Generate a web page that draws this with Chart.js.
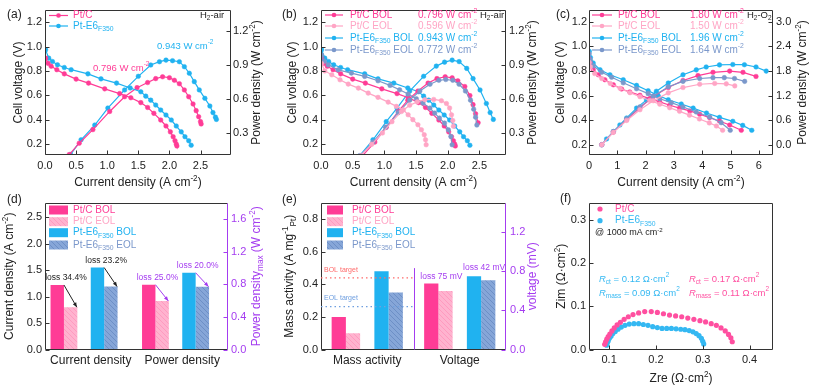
<!DOCTYPE html>
<html>
<head>
<meta charset="utf-8">
<title>Fuel cell performance</title>
<script src="https://cdn.jsdelivr.net/npm/chart.js@4.4.1/dist/chart.umd.min.js"></script>
<style>
  html, body { margin: 0; padding: 0; background: #fff; }
  #page { position: relative; width: 814px; height: 389px; overflow: hidden; }
  #page canvas { position: absolute; }
</style>
</head>
<body>
<div id="page">
  <canvas id="chartA" width="270" height="190" style="left:0;top:0"></canvas>
  <canvas id="chartB" width="270" height="190" style="left:270px;top:0"></canvas>
  <canvas id="chartC" width="274" height="190" style="left:540px;top:0"></canvas>
  <canvas id="chartD" width="270" height="199" style="left:0;top:190px"></canvas>
  <canvas id="chartE" width="270" height="199" style="left:270px;top:190px"></canvas>
  <canvas id="chartF" width="274" height="199" style="left:540px;top:190px"></canvas>
</div>
<script>
/************** data ************/

// (a) H2-air, BOL : [current density, cell voltage] / [current density, power density]
const ptcPolA = [[0.01,0.905],[0.05,0.862],[0.10,0.838],[0.19,0.81],[0.31,0.776],[0.50,0.733],[0.70,0.70],[0.96,0.653],[1.20,0.614],[1.38,0.58],[1.54,0.54],[1.65,0.50],[1.75,0.452],[1.86,0.397],[1.945,0.348],[2.015,0.30],[2.06,0.26],[2.09,0.227],[2.11,0.20],[2.12,0.184]];
const ptcPowA = [[0.39,0.11],[0.55,0.21],[0.77,0.33],[1.04,0.49],[1.28,0.62],[1.48,0.70],[1.65,0.745],[1.78,0.78],[1.89,0.796],[2.00,0.788],[2.08,0.765],[2.16,0.735],[2.24,0.68],[2.31,0.62],[2.38,0.556],[2.43,0.497],[2.47,0.444],[2.50,0.40],[2.51,0.38]];
const e6PolA = [[0.01,0.973],[0.06,0.905],[0.12,0.877],[0.20,0.85],[0.31,0.828],[0.42,0.81],[0.69,0.776],[0.90,0.735],[1.15,0.70],[1.37,0.66],[1.54,0.629],[1.62,0.593],[1.70,0.56],[1.78,0.52],[1.86,0.479],[1.945,0.438],[2.03,0.397],[2.11,0.348],[2.19,0.30],[2.25,0.26],[2.31,0.227],[2.35,0.19]];
const e6PowA = [[0.41,0.11],[0.58,0.24],[0.80,0.37],[1.01,0.52],[1.28,0.68],[1.50,0.80],[1.70,0.90],[1.84,0.929],[1.945,0.943],[2.05,0.938],[2.16,0.929],[2.24,0.885],[2.32,0.827],[2.40,0.753],[2.48,0.68],[2.57,0.606],[2.65,0.538],[2.70,0.48],[2.74,0.44],[2.755,0.42]];

// (b) H2-air, BOL vs EOL
const ptcPowB = [[0.64,0.09],[0.85,0.22],[1.03,0.35],[1.22,0.49],[1.37,0.59],[1.53,0.67],[1.69,0.74],[1.83,0.78],[1.96,0.796],[2.07,0.787],[2.16,0.76],[2.27,0.71],[2.35,0.63],[2.40,0.55],[2.44,0.47],[2.48,0.39]];
const e6PowB = [[0.61,0.10],[0.82,0.24],[1.03,0.40],[1.20,0.52],[1.40,0.67],[1.62,0.80],[1.82,0.89],[1.95,0.925],[2.07,0.943],[2.18,0.93],[2.30,0.87],[2.40,0.78],[2.51,0.68],[2.61,0.56],[2.67,0.48],[2.72,0.42]];
const ptcEolPolB = [[0.01,0.86],[0.06,0.80],[0.17,0.768],[0.30,0.727],[0.43,0.692],[0.59,0.659],[0.745,0.618],[0.90,0.583],[1.06,0.544],[1.19,0.509],[1.30,0.481],[1.375,0.44],[1.45,0.40],[1.53,0.358],[1.585,0.317],[1.63,0.276],[1.65,0.235],[1.66,0.194]];
const ptcEolPowB = [[0.62,0.10],[0.80,0.20],[0.97,0.30],[1.12,0.40],[1.27,0.49],[1.40,0.545],[1.52,0.575],[1.64,0.594],[1.78,0.596],[1.90,0.585],[1.98,0.56],[2.03,0.52],[2.06,0.46],[2.08,0.41],[2.09,0.36]];
const e6EolPolB = [[0.01,0.93],[0.05,0.88],[0.115,0.85],[0.27,0.809],[0.48,0.782],[0.69,0.755],[0.90,0.719],[1.09,0.681],[1.24,0.645],[1.375,0.61],[1.505,0.571],[1.61,0.536],[1.72,0.495],[1.795,0.454],[1.87,0.413],[1.95,0.372],[2.01,0.317],[2.05,0.262],[2.07,0.194]];
const e6EolPowB = [[0.62,0.10],[0.82,0.22],[1.02,0.35],[1.22,0.48],[1.40,0.59],[1.56,0.67],[1.72,0.73],[1.86,0.765],[1.97,0.772],[2.08,0.765],[2.18,0.73],[2.28,0.67],[2.36,0.59],[2.41,0.51],[2.44,0.44],[2.46,0.37]];
const peakPowerB = [0.796, 0.596, 0.943, 0.772];

// (c) H2-O2, BOL vs EOL
const ptcPolC = [[0.01,0.90],[0.05,0.865],[0.15,0.811],[0.33,0.770],[0.56,0.730],[0.86,0.689],[1.15,0.655],[1.44,0.631],[1.80,0.604],[2.15,0.577],[2.50,0.550],[2.85,0.523],[3.20,0.50],[3.56,0.477],[3.91,0.450],[4.26,0.423],[4.61,0.396],[4.97,0.363],[5.38,0.32]];
const ptcEolPolC = [[0.01,0.87],[0.05,0.835],[0.2,0.78],[0.45,0.74],[0.75,0.70],[1.1,0.66],[1.45,0.625],[1.8,0.593],[2.15,0.562],[2.5,0.532],[2.85,0.503],[3.2,0.474],[3.55,0.443],[3.9,0.412],[4.25,0.38],[4.5,0.355],[4.72,0.32]];
const e6PolC = [[0.01,0.96],[0.05,0.91],[0.15,0.865],[0.39,0.811],[0.74,0.770],[1.21,0.73],[1.68,0.684],[2.09,0.641],[2.44,0.603],[2.80,0.568],[3.26,0.533],[3.68,0.50],[4.15,0.46],[4.61,0.425],[5.08,0.393],[5.43,0.36],[5.75,0.32]];
const e6EolPolC = [[0.01,0.94],[0.05,0.89],[0.15,0.843],[0.45,0.79],[0.80,0.75],[1.21,0.705],[1.68,0.657],[2.09,0.617],[2.50,0.576],[2.91,0.544],[3.32,0.509],[3.79,0.468],[4.26,0.428],[4.67,0.382],[4.99,0.32]];
const ptcPowC = [[0.45,0.01],[0.86,0.32],[1.33,0.62],[1.80,0.91],[2.27,1.18],[2.80,1.40],[3.32,1.57],[3.85,1.69],[4.38,1.77],[4.97,1.80],[5.44,1.77],[5.90,1.67]];
const ptcEolPowC = [[0.45,0.01],[0.86,0.31],[1.33,0.60],[1.80,0.86],[2.27,1.08],[2.80,1.27],[3.32,1.40],[3.91,1.48],[4.44,1.50],[4.85,1.49],[5.15,1.44]];
const e6PowC = [[0.45,0.01],[0.62,0.15],[0.86,0.33],[1.09,0.49],[1.33,0.66],[1.68,0.90],[2.03,1.10],[2.38,1.31],[2.80,1.51],[3.32,1.71],[3.79,1.83],[4.14,1.90],[4.61,1.95],[5.08,1.96],[5.49,1.955],[5.90,1.90],[6.26,1.80]];
const e6EolPowC = [[0.45,0.01],[0.86,0.33],[1.33,0.64],[1.80,0.93],[2.27,1.19],[2.80,1.42],[3.32,1.55],[3.91,1.62],[4.38,1.64],[4.78,1.64],[5.14,1.62],[5.50,1.55]];
const peakPowerC = [1.80, 1.50, 1.96, 1.64];

// (d) durability bars
const catsD = ['Current density', 'Power density'];
const currentD = [1.22, 0.80, 1.55, 1.19];   // A cm-2 (left axis)
const powerD = [0.796, 0.596, 0.943, 0.772]; // W cm-2 (right axis)
const lossD = ['loss 34.4%', 'loss 23.2%', 'loss 25.0%', 'loss 20.0%'];

// (e) mass activity / voltage bars
const catsE = ['Mass activity', 'Voltage'];
const massE = [0.20, 0.10, 0.48, 0.35];      // A mg-1 Pt (left axis)
const voltE = [0.675, 0.60, 0.75, 0.708];    // right axis
const targetsE = [0.44, 0.264];              // BOL / EOL target
const targetNamesE = ['BOL target', 'EOL target'];
const lossE = ['loss 75 mV', 'loss 42 mV'];

// (f) Nyquist @ 1000 mA cm-2 : [Zre, Zim]
const ptcNyq = [[0.0905,0.012],[0.0925,0.018],[0.095,0.024],[0.098,0.030],[0.1015,0.036],[0.106,0.043],[0.111,0.050],[0.117,0.057],[0.124,0.063],[0.132,0.070],[0.141,0.076],[0.151,0.081],[0.163,0.085],[0.176,0.088],[0.190,0.088],[0.203,0.086],[0.216,0.083],[0.229,0.080],[0.242,0.078],[0.255,0.076],[0.268,0.073],[0.281,0.070],[0.294,0.067],[0.306,0.064],[0.318,0.060],[0.329,0.056],[0.339,0.050],[0.348,0.043],[0.355,0.035],[0.360,0.027],[0.363,0.018]];
const e6Nyq = [[0.0945,0.010],[0.096,0.015],[0.098,0.020],[0.1005,0.026],[0.104,0.031],[0.108,0.037],[0.113,0.042],[0.119,0.047],[0.126,0.052],[0.134,0.056],[0.143,0.059],[0.153,0.060],[0.163,0.060],[0.173,0.058],[0.183,0.056],[0.193,0.053],[0.203,0.051],[0.213,0.049],[0.223,0.049],[0.233,0.049],[0.243,0.048],[0.253,0.047],[0.262,0.046],[0.271,0.044],[0.279,0.041],[0.286,0.037],[0.292,0.032],[0.297,0.026],[0.300,0.019],[0.302,0.013]];

const seriesNames = ['Pt/C BOL', 'Pt/C EOL', 'Pt-E6_{F350} BOL', 'Pt-E6_{F350} EOL'];

/************** style ************/
const FONT = '"Liberation Sans", Arial, Helvetica, sans-serif';
const INK = '#222';
const PINK = '#ff3c96', PINK_L = '#ffa5c5', BLUE = '#20b2f0', BLUE_G = '#7b98cb', PURPLE = '#a43cf0';
const SERIES_COLORS = [PINK, PINK_L, BLUE, BLUE_G];

Chart.defaults.font.family = FONT;
Chart.defaults.font.size = 11;
Chart.defaults.color = INK;
Chart.defaults.animation = false;

/************** helpers ************/

// "W cm^{-2}", "Pt-E6_{F350}", "*R*_{ct}"
function richParts(str) {
    const out = [];
    const re = /([_^])\{([^}]*)\}|\*([^*]+)\*/g;
    let last = 0, m;
    while ((m = re.exec(str)) !== null) {
        if (m.index > last) out.push({t: str.slice(last, m.index), k: ''});
        if (m[3] !== undefined) out.push({t: m[3], k: 'i'});
        else out.push({t: m[2], k: m[1]});
        last = re.lastIndex;
    }
    if (last < str.length) out.push({t: str.slice(last), k: ''});
    return out;
}

function drawRich(ctx, str, x, y, o) {
    const size = o.size || 10;
    const parts = richParts(str);
    const fontOf = p => {
        const small = p.k === '_' || p.k === '^';
        return (p.k === 'i' ? 'italic ' : '') + (small ? size * 0.68 : size) + 'px ' + FONT;
    };
    let w = 0;
    parts.forEach(p => { ctx.font = fontOf(p); p.w = ctx.measureText(p.t).width; w += p.w; });
    ctx.save();
    ctx.translate(x, y);
    if (o.rotate) ctx.rotate(-Math.PI / 2);
    ctx.fillStyle = o.color || INK;
    ctx.textBaseline = 'middle';
    ctx.textAlign = 'left';
    let cx = o.align === 'center' ? -w / 2 : (o.align === 'right' ? -w : 0);
    parts.forEach(p => {
        ctx.font = fontOf(p);
        const dy = p.k === '^' ? -size * 0.35 : (p.k === '_' ? size * 0.3 : 0);
        ctx.fillText(p.t, cx, dy);
        cx += p.w;
    });
    ctx.restore();
}

function valAxis(position, min, max, step, dec, size, pad, color) {
    return {
        type: 'linear', position: position, min: min, max: max,
        grid: {display: false, drawTicks: false},
        border: {display: false},
        ticks: {
            stepSize: step, includeBounds: false, padding: pad, color: color || INK,
            maxRotation: 0, autoSkip: false, font: {size: 11},
            callback: v => Number(v).toFixed(dec)
        },
        afterFit: s => { if (s.isHorizontal()) s.height = size; else s.width = size; }
    };
}

function catAxis(size) {
    return {
        type: 'category',
        grid: {display: false, drawTicks: false},
        border: {display: false},
        ticks: {padding: 3.5, maxRotation: 0, font: {size: 12}, color: INK},
        afterFit: s => { s.height = size; }
    };
}

function lineSet(pairs, color, axis) {
    return {
        data: pairs.map(p => ({x: p[0], y: p[1]})),
        yAxisID: axis,
        showLine: true,
        borderColor: color,
        backgroundColor: color,
        borderWidth: 1.2,
        pointRadius: 2.3,
        pointBorderWidth: 0.5,
        pointBackgroundColor: color,
        pointBorderColor: color
    };
}

function dotSet(pairs, color) {
    return {
        data: pairs.map(p => ({x: p[0], y: p[1]})),
        showLine: false,
        pointRadius: 2.6,
        pointBorderWidth: 0,
        pointBackgroundColor: color
    };
}

function hatch(base, line) {
    const c = document.createElement('canvas');
    c.width = 5; c.height = 5;
    const g = c.getContext('2d');
    g.fillStyle = base; g.fillRect(0, 0, 5, 5);
    g.strokeStyle = line; g.lineWidth = 0.9;
    g.beginPath();
    g.moveTo(0, 0); g.lineTo(5, 5);
    g.moveTo(-1, 4); g.lineTo(1, 6);
    g.moveTo(4, -1); g.lineTo(6, 1);
    g.stroke();
    return g.createPattern(c, 'repeat');
}

function spacer(axis, cat) {
    return {data: cat === 0 ? [0, null] : [null, 0], yAxisID: axis, backgroundColor: 'rgba(0,0,0,0)', borderWidth: 0, skipNull: true};
}

// 카테고리별로 다른 y축을 쓰는 막대 (null 은 간격 계산에서 제외)
function barSets(leftVals, rightVals, fills, trailing) {
    const sets = [];
    [[leftVals, 'y', 0], [rightVals, 'y1', 1]].forEach(([vals, axis, cat]) => {
        vals.forEach((v, i) => {
            if (i === 2) sets.push(spacer(axis, cat));
            sets.push({
                key: axis + ':' + i,
                data: cat === 0 ? [v, null] : [null, v],
                yAxisID: axis,
                backgroundColor: fills[i],
                borderWidth: 0,
                skipNull: true
            });
        });
        if (trailing) sets.push(spacer(axis, cat));
    });
    return sets;
}

function barEl(chart, key, cat) {
    const idx = chart.data.datasets.findIndex(d => d.key === key);
    return chart.getDatasetMeta(idx).data[cat];
}

function arrow(ctx, x1, y1, x2, y2, color) {
    ctx.strokeStyle = color; ctx.fillStyle = color; ctx.lineWidth = 1;
    ctx.beginPath(); ctx.moveTo(x1, y1); ctx.lineTo(x2, y2); ctx.stroke();
    const ang = Math.atan2(y2 - y1, x2 - x1), h = 5;
    ctx.beginPath();
    ctx.moveTo(x2, y2);
    ctx.lineTo(x2 - h * Math.cos(ang - 0.4), y2 - h * Math.sin(ang - 0.4));
    ctx.lineTo(x2 - h * Math.cos(ang + 0.4), y2 - h * Math.sin(ang + 0.4));
    ctx.closePath(); ctx.fill();
}

function lineKey(ctx, x1, x2, y, color) {
    ctx.strokeStyle = color; ctx.fillStyle = color; ctx.lineWidth = 1.2;
    ctx.beginPath(); ctx.moveTo(x1, y); ctx.lineTo(x2, y); ctx.stroke();
    ctx.beginPath(); ctx.arc((x1 + x2) / 2, y, 2.3, 0, Math.PI * 2); ctx.fill();
}

function drawFrame(chart, rightColor) {
    const ctx = chart.ctx, a = chart.chartArea;
    const L = Math.round(a.left) + 0.5, R = Math.round(a.right) - 0.5;
    const T = Math.round(a.top) + 0.5, B = Math.round(a.bottom) - 0.5;
    ctx.lineWidth = 1;
    ctx.strokeStyle = '#333';
    ctx.beginPath();
    ctx.moveTo(R, T); ctx.lineTo(L, T); ctx.lineTo(L, B); ctx.lineTo(R, B);
    ctx.stroke();
    ctx.strokeStyle = rightColor || '#333';
    ctx.beginPath(); ctx.moveTo(R, T); ctx.lineTo(R, B); ctx.stroke();
    // 안쪽 눈금
    Object.values(chart.scales).forEach(s => {
        if (s.type !== 'linear') return;
        ctx.strokeStyle = s.position === 'right' ? (rightColor || '#333') : '#333';
        s.ticks.forEach(t => {
            const p = Math.round(s.getPixelForValue(t.value)) + 0.5;
            ctx.beginPath();
            if (s.position === 'bottom') { ctx.moveTo(p, B); ctx.lineTo(p, B - 4); }
            else if (s.position === 'left') { ctx.moveTo(L, p); ctx.lineTo(L + 4, p); }
            else { ctx.moveTo(R, p); ctx.lineTo(R - 4, p); }
            ctx.stroke();
        });
    });
}

function deco(spec) {
    return {
        id: 'deco',
        afterDraw(chart) {
            const ctx = chart.ctx, a = chart.chartArea;
            ctx.save();
            drawFrame(chart, spec.rightColor);
            const midY = (a.top + a.bottom) / 2, midX = (a.left + a.right) / 2;
            const t = spec.titles;
            if (t.left) drawRich(ctx, t.left[0], t.left[1], midY, {size: 12, rotate: true, align: 'center'});
            if (t.right) drawRich(ctx, t.right[0], t.right[1], midY, {size: 12, rotate: true, align: 'center', color: t.right[2]});
            if (t.bottom) drawRich(ctx, t.bottom[0], midX, t.bottom[1], {size: 12, align: 'center'});
            drawRich(ctx, spec.tag[0], spec.tag[1], spec.tag[2], {size: 12});
            if (spec.draw) spec.draw(chart, ctx, a);
            ctx.restore();
        }
    };
}

function linePanel(id, sets, scales, pad, spec) {
    return new Chart(document.getElementById(id), {
        type: 'scatter',
        data: {datasets: sets},
        options: {
            responsive: false, animation: false, devicePixelRatio: 1,
            layout: {padding: pad},
            scales: scales,
            plugins: {legend: {display: false}, tooltip: {enabled: false}}
        },
        plugins: [deco(spec)]
    });
}

/************** (a) ************/
linePanel('chartA', [
    lineSet(ptcPolA, PINK, 'y'), lineSet(e6PolA, BLUE, 'y'),
    lineSet(ptcPowA, PINK, 'y1'), lineSet(e6PowA, BLUE, 'y1')
], {
    x: valAxis('bottom', 0, 2.99, 0.5, 1, 35, 4),
    y: valAxis('left', 0.11, 1.30, 0.2, 1, 45, 3),
    y1: valAxis('right', 0.106, 1.385, 0.3, 1, 39, 2)
}, {top: 10, left: 0, right: 0, bottom: 0}, {
    tag: ['(a)', 7, 15],
    titles: {left: ['Cell voltage (V)', 19], right: ['Power density (W cm^{-2})', 257], bottom: ['Current density (A cm^{-2})', 183]},
    draw(chart, ctx) {
        lineKey(ctx, 49, 68, 15.5, PINK);
        lineKey(ctx, 49, 68, 26, BLUE);
        drawRich(ctx, 'Pt/C', 73, 15.5, {size: 10, color: PINK});
        drawRich(ctx, 'Pt-E6_{F350}', 73, 26, {size: 10, color: BLUE});
        drawRich(ctx, 'H_{2}-air', 200, 15, {size: 9.5});
        drawRich(ctx, peakPowerB[0].toFixed(3) + ' W cm^{-2}', 93, 68, {size: 9.5, color: PINK});
        drawRich(ctx, peakPowerB[2].toFixed(3) + ' W cm^{-2}', 157, 46, {size: 9.5, color: BLUE});
    }
});

/************** (b) ************/
linePanel('chartB', [
    lineSet(ptcEolPolB, PINK_L, 'y'), lineSet(ptcEolPowB, PINK_L, 'y1'),
    lineSet(e6EolPolB, BLUE_G, 'y'), lineSet(e6EolPowB, BLUE_G, 'y1'),
    lineSet(ptcPolA, PINK, 'y'), lineSet(ptcPowB, PINK, 'y1'),
    lineSet(e6PolA, BLUE, 'y'), lineSet(e6PowB, BLUE, 'y1')
], {
    x: valAxis('bottom', 0, 2.92, 0.5, 1, 35, 4),
    y: valAxis('left', 0.11, 1.30, 0.2, 1, 51, 3),
    y1: valAxis('right', 0.106, 1.385, 0.3, 1, 34, 3)
}, {top: 10, left: 0, right: 0, bottom: 0}, {
    tag: ['(b)', 12, 15],
    titles: {left: ['Cell voltage (V)', 23], right: ['Power density (W cm^{-2})', 263], bottom: ['Current density (A cm^{-2})', 183]},
    draw(chart, ctx) {
        const rows = [15, 26, 38, 50];
        seriesNames.forEach((name, i) => {
            lineKey(ctx, 55, 73, rows[i], SERIES_COLORS[i]);
            drawRich(ctx, name, 80, rows[i], {size: 10, color: SERIES_COLORS[i]});
            drawRich(ctx, peakPowerB[i].toFixed(3) + ' W cm^{-2}', 148, rows[i], {size: 10, color: SERIES_COLORS[i]});
        });
        drawRich(ctx, 'H_{2}-air', 210, 15, {size: 9.5});
    }
});

/************** (c) ************/
linePanel('chartC', [
    lineSet(ptcEolPolC, PINK_L, 'y'), lineSet(ptcEolPowC, PINK_L, 'y1'),
    lineSet(e6EolPolC, BLUE_G, 'y'), lineSet(e6EolPowC, BLUE_G, 'y1'),
    lineSet(ptcPolC, PINK, 'y'), lineSet(ptcPowC, PINK, 'y1'),
    lineSet(e6PolC, BLUE, 'y'), lineSet(e6PowC, BLUE, 'y1')
], {
    x: valAxis('bottom', 0, 6.5, 1, 0, 35, 4),
    y: valAxis('left', 0.12, 1.295, 0.2, 1, 49, 2),
    y1: valAxis('right', -0.24, 3.285, 0.6, 1, 41, 3)
}, {top: 10, left: 0, right: 0, bottom: 0}, {
    tag: ['(c)', 16, 15],
    titles: {left: ['Cell voltage (V)', 21], right: ['Power density (W cm^{-2})', 263], bottom: ['Current density (A cm^{-2})', 183]},
    draw(chart, ctx) {
        const rows = [15, 26, 38, 50];
        seriesNames.forEach((name, i) => {
            lineKey(ctx, 52, 72, rows[i], SERIES_COLORS[i]);
            drawRich(ctx, name, 78, rows[i], {size: 10, color: SERIES_COLORS[i]});
            drawRich(ctx, peakPowerC[i].toFixed(2) + ' W cm^{-2}', 150, rows[i], {size: 10, color: SERIES_COLORS[i]});
        });
        drawRich(ctx, 'H_{2}-O_{2}', 207, 15, {size: 9.5});
    }
});

/************** (d) ************/
const fillsBar = [PINK, hatch('#ffb3cf', '#ff97bd'), BLUE, hatch('#86a6d8', '#6a8cc4')];

new Chart(document.getElementById('chartD'), {
    type: 'bar',
    data: {labels: catsD, datasets: barSets(currentD, powerD, fillsBar, true)},
    options: {
        responsive: false, animation: false, devicePixelRatio: 1,
        layout: {padding: {top: 13, left: 0, right: 0, bottom: 0}},
        datasets: {bar: {categoryPercentage: 0.879, barPercentage: 1}},
        scales: {
            x: catAxis(39.5),
            y: valAxis('left', 0, 2.77, 0.5, 1, 45, 3),
            y1: valAxis('right', 0, 1.8, 0.4, 1, 42, 3, PURPLE)
        },
        plugins: {legend: {display: false}, tooltip: {enabled: false}}
    },
    plugins: [deco({
        tag: ['(d)', 7, 10],
        rightColor: PURPLE,
        titles: {left: ['Current density (A cm^{-2})', 10], right: ['Power density_{max} (W cm^{-2})', 257, PURPLE]},
        draw(chart, ctx) {
            const rows = [20, 31.7, 42.7, 55];
            seriesNames.forEach((name, i) => {
                ctx.fillStyle = fillsBar[i];
                ctx.fillRect(49, rows[i] - 4.5, 19, 9);
                drawRich(ctx, name, 73, rows[i], {size: 10, color: SERIES_COLORS[i]});
            });
            // BOL -> EOL 감소 화살표
            const pairs = [['y', 0, 0, INK], ['y', 2, 0, INK], ['y1', 0, 1, PURPLE], ['y1', 2, 1, PURPLE]];
            pairs.forEach(([axis, i, cat, color], k) => {
                const a = barEl(chart, axis + ':' + i, cat);
                const b = barEl(chart, axis + ':' + (i + 1), cat);
                arrow(ctx, a.x + a.width / 2, a.y, b.x + b.width / 2 - 0.5, b.y, color);
                drawRich(ctx, lossD[k], a.x + a.width / 2 + 2, a.y - 7, {size: 8.5, color: color, align: 'center'});
            });
        }
    })]
});

/************** (e) ************/
new Chart(document.getElementById('chartE'), {
    type: 'bar',
    data: {labels: catsE, datasets: barSets(massE, voltE, fillsBar, false)},
    options: {
        responsive: false, animation: false, devicePixelRatio: 1,
        layout: {padding: {top: 13, left: 0, right: 0, bottom: 0}},
        datasets: {bar: {categoryPercentage: 0.77, barPercentage: 1}},
        scales: {
            x: catAxis(39.5),
            y: valAxis('left', 0, 0.9, 0.2, 1, 51, 3),
            y1: valAxis('right', 0, 1.5, 0.4, 1, 34, 4, PURPLE)
        },
        plugins: {legend: {display: false}, tooltip: {enabled: false}}
    },
    plugins: [deco({
        tag: ['(e)', 12, 10],
        rightColor: PURPLE,
        titles: {left: ['Mass activity (A mg^{-1}_{Pt})', 20], right: ['voltage (mV)', 263, PURPLE]},
        draw(chart, ctx, area) {
            const xs = chart.scales.x, ys = chart.scales.y;
            const divX = (xs.getPixelForValue(0) + xs.getPixelForValue(1)) / 2;
            // 목표선
            const tColors = ['#ff6b6b', '#6f9fe0'];
            targetsE.forEach((v, i) => {
                const py = ys.getPixelForValue(v);
                ctx.strokeStyle = tColors[i]; ctx.lineWidth = 1.3;
                ctx.setLineDash([1.5, 3]);
                ctx.beginPath(); ctx.moveTo(area.left, py); ctx.lineTo(divX, py); ctx.stroke();
                ctx.setLineDash([]);
                drawRich(ctx, targetNamesE[i], area.left + 3, py - 8, {size: 7, color: tColors[i]});
            });
            // 구분선
            ctx.strokeStyle = PURPLE; ctx.lineWidth = 1;
            ctx.beginPath(); ctx.moveTo(Math.round(divX) + 0.5, ys.getPixelForValue(0.5)); ctx.lineTo(Math.round(divX) + 0.5, area.bottom); ctx.stroke();
            // 범례
            const rows = [20, 31.7, 42.7, 55];
            seriesNames.forEach((name, i) => {
                ctx.fillStyle = fillsBar[i];
                ctx.fillRect(57, rows[i] - 4.5, 16, 9);
                drawRich(ctx, name, 82, rows[i], {size: 10, color: SERIES_COLORS[i]});
            });
            [0, 2].forEach((i, k) => {
                const a = barEl(chart, 'y1:' + i, 1);
                drawRich(ctx, lossE[k], a.x + a.width / 2 + 3, a.y - 7 - k * 2, {size: 8.5, color: PURPLE, align: 'center'});
            });
        }
    })]
});

/************** (f) ************/
linePanel('chartF', [dotSet(ptcNyq, '#ff4fa0'), dotSet(e6Nyq, '#34b8f2')], {
    x: valAxis('bottom', 0.057, 0.45, 0.1, 1, 39.5, 4),
    y: valAxis('left', 0, 0.34, 0.1, 1, 49, 3)
}, {top: 13, left: 0, right: 41, bottom: 0}, {
    tag: ['(f)', 20, 9],
    titles: {left: ['Zim (\u03a9\u00b7cm^{2})', 22], bottom: ['Zre (\u03a9\u00b7cm^{2})', 189]},
    draw(chart, ctx) {
        [['Pt/C', '#ff4fa0', 19], ['Pt-E6_{F350}', '#34b8f2', 30.7]].forEach(([name, color, y]) => {
            ctx.fillStyle = color;
            ctx.beginPath(); ctx.arc(60, y, 2.6, 0, Math.PI * 2); ctx.fill();
            drawRich(ctx, name, 75, y, {size: 10, color: color});
        });
        drawRich(ctx, '@ 1000 mA cm^{-2}', 55, 43, {size: 9});
        drawRich(ctx, '*R*_{ct} = 0.12 \u03a9\u00b7cm^{2}', 59, 89, {size: 9.5, color: '#34b8f2'});
        drawRich(ctx, '*R*_{mass} = 0.09 \u03a9\u00b7cm^{2}', 59, 103, {size: 9.5, color: '#34b8f2'});
        drawRich(ctx, '*R*_{ct} = 0.17 \u03a9\u00b7cm^{2}', 149, 89, {size: 9.5, color: '#ff4fa0'});
        drawRich(ctx, '*R*_{mass} = 0.11 \u03a9\u00b7cm^{2}', 149, 103, {size: 9.5, color: '#ff4fa0'});
    }
});
</script>
</body>
</html>
